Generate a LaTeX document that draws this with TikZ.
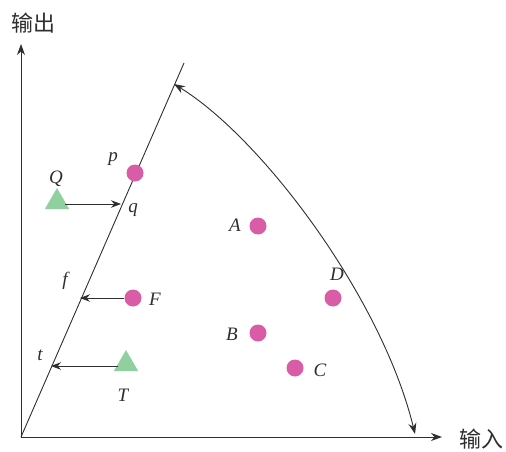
\documentclass[tikz,border=0pt]{standalone}
\usepackage{fontspec}
\setmainfont{Liberation Serif}
\newfontfamily\cjk{Noto Sans CJK SC}
\usetikzlibrary{arrows.meta,shapes.geometric}
\definecolor{dotpink}{HTML}{D95CA6}
\definecolor{trigreen}{HTML}{8FD09E}
\definecolor{ink}{HTML}{2E2E2E}
\begin{document}
\begin{tikzpicture}[x=1pt,y=-1pt,
  axis/.style={draw=ink,line width=0.9pt,-{Stealth[length=11pt,width=8pt]}},
  conn/.style={draw=ink,line width=0.8pt,-{Stealth[length=10pt,width=7.5pt]}},
  pdot/.style={circle,fill=dotpink,minimum size=17pt,inner sep=0pt},
  tri/.style={regular polygon,regular polygon sides=3,fill=trigreen,minimum size=28pt,inner sep=0pt},
  lab/.style={font=\fontsize{19}{19}\selectfont\itshape,text=ink,inner sep=0pt},
  cn/.style={font=\cjk\fontsize{22}{22}\selectfont,text=ink,inner sep=0pt}]
\useasboundingbox (0,0) rectangle (506,452);
\coordinate (O) at (21,437);
\coordinate (Yend) at (21,44);
\coordinate (Xend) at (442,437);
\coordinate (Ltop) at (184,63);
\draw[axis] (O) -- (Yend);
\draw[axis] (O) -- (Xend);
\draw[draw=ink,line width=0.9pt] (O) -- (Ltop);
\node[cn] (yl) at (33,23) {输出};
\node[cn] (xl) at (481,439) {输入};
% boundary arc
\coordinate (arcS) at (174,84);
\coordinate (arcE) at (415,434);
\draw[draw=ink,line width=0.9pt,{Stealth[length=11pt,width=8pt]}-{Stealth[length=11pt,width=8pt]}]
  (arcS) .. controls (262,138) and (382,298) .. (arcE);
% points
\node[pdot] (p) at (135,173) {};
\node[pdot] (A) at (258,226) {};
\node[pdot] (D) at (333,298) {};
\node[pdot] (B) at (258,333) {};
\node[pdot] (C) at (295,368) {};
\node[pdot] (F) at (133,298) {};
\node[tri] (Q) at (57,202) {};
\node[tri] (T) at (126,364) {};
% labels
\node[lab] (lp) at (113,159) {p};
\node[lab] (lQ) at (56,179) {Q};
\node[lab] (lq) at (133,210) {q};
\node[lab] (lA) at (235,225) {A};
\node[lab] (lD) at (337,274) {D};
\node[lab] (lB) at (232,334) {B};
\node[lab] (lC) at (320,370) {C};
\node[lab] (lF) at (155,299) {F};
\node[lab] (lf) at (65,281) {f};
\node[lab] (lt) at (40,355) {t};
\node[lab] (lT) at (123,395) {T};
% projection points on the frontier line
\coordinate (qpt) at (121,204);
\coordinate (fpt) at (80,298);
\coordinate (tpt) at (51,366);
\draw[conn] (Q.east |- qpt) -- (qpt);
\draw[conn] (F.west) -- (fpt);
\draw[conn] (T.west |- tpt) -- (tpt);
\end{tikzpicture}
\end{document}
